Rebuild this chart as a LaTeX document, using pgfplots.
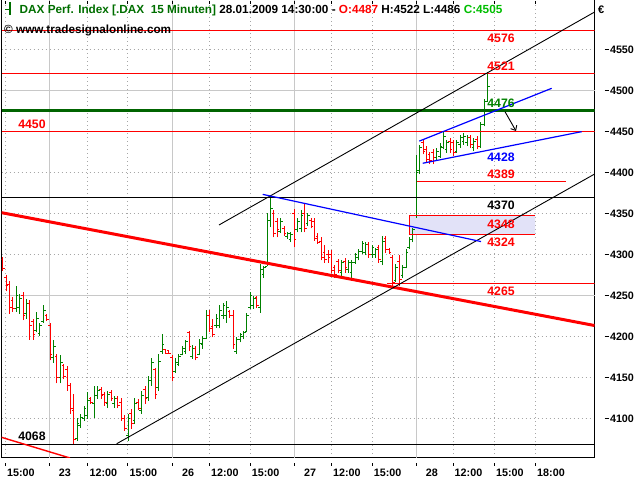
\documentclass[border=0pt]{standalone}
\usepackage{fontspec}
\setmainfont{Liberation Sans}
\usepackage{pgfplots}
\pgfplotsset{compat=1.18}
\usepackage{pgfplotstable}
\usetikzlibrary{arrows.meta}

\definecolor{upgreen}{RGB}{0,128,0}
\definecolor{dnred}{RGB}{255,0,0}
\definecolor{lvred}{RGB}{255,0,0}
\definecolor{dkgreen}{RGB}{0,100,0}
\definecolor{lav}{RGB}{226,226,248}
\definecolor{gridgray}{RGB}{200,200,200}
\definecolor{ttlgreen}{RGB}{0,110,0}
\definecolor{brgreen}{RGB}{0,190,0}
\definecolor{lblgreen}{RGB}{0,128,0}

\newcommand\lblfont{\fontsize{12.3}{14}\selectfont\bfseries}
\newcommand\tkfont{\fontsize{10.8}{12}\selectfont\bfseries}
\newcommand\dl{\rule[0.3em]{4bp}{1bp}\hspace{1.5bp}}

% bars with close > open (i = bar number, 15-minute bars)
\pgfplotstableread{
i o h l c
4 4234 4262 4230 4250
5 4236 4252 4228 4247
7 4228 4246 4222 4240
10 4208 4230 4205 4222
11 4204 4217 4201 4214
12 4219 4238 4217 4232
15 4174 4196 4168 4188
17 4150 4177 4143 4168
22 4076 4101 4073 4094
23 4092 4106 4089 4102
24 4100 4116 4097 4112
25 4104 4132 4100 4122
27 4118 4140 4101 4128
28 4128 4140 4124 4134
31 4118 4134 4113 4130
33 4118 4128 4113 4124
37 4080 4106 4073 4100
39 4098 4125 4094 4118
41 4110 4134 4106 4128
43 4126 4152 4122 4146
44 4146 4174 4140 4168
46 4138 4179 4134 4170
47 4182 4203 4179 4190
51 4158 4174 4156 4168
52 4166 4179 4164 4176
53 4178 4189 4177 4186
54 4182 4196 4179 4194
56 4176 4190 4173 4186
58 4178 4197 4177 4192
59 4190 4201 4185 4198
60 4198 4232 4197 4226
63 4213 4228 4211 4222
64 4214 4238 4210 4232
65 4226 4241 4222 4238
66 4226 4243 4217 4236
69 4182 4199 4179 4196
70 4196 4204 4193 4202
71 4200 4207 4197 4205
72 4206 4229 4205 4226
73 4236 4254 4234 4250
74 4238 4250 4234 4246
76 4236 4289 4229 4282
77 4276 4286 4272 4284
78 4286 4351 4286 4342
79 4342 4372 4333 4356
82 4328 4344 4326 4340
84 4322 4327 4319 4326
85 4318 4327 4315 4324
87 4330 4344 4327 4340
88 4332 4354 4327 4348
90 4338 4351 4335 4348
100 4278 4293 4274 4290
102 4282 4293 4278 4290
103 4278 4293 4272 4290
104 4290 4302 4289 4300
105 4296 4307 4293 4304
106 4304 4317 4301 4314
107 4302 4315 4299 4312
109 4300 4311 4296 4308
110 4300 4308 4296 4306
112 4292 4323 4287 4316
116 4268 4289 4266 4284
118 4274 4287 4272 4284
119 4284 4307 4283 4302
120 4308 4321 4307 4318
121 4318 4332 4315 4330
122 4348 4421 4345 4400
123 4402 4433 4398 4430
128 4418 4430 4414 4426
129 4420 4436 4418 4432
130 4430 4449 4428 4444
131 4428 4440 4424 4436
134 4426 4440 4424 4436
135 4434 4446 4430 4442
136 4438 4448 4434 4444
137 4436 4446 4432 4442
139 4430 4442 4426 4438
141 4432 4462 4430 4458
142 4458 4490 4456 4486
143 4487 4522 4486 4505
}\upbars

% bars with close < open
\pgfplotstableread{
i o h l c
0 4294 4297 4280 4283
1 4272 4275 4255 4262
2 4264 4268 4228 4236
3 4244 4248 4230 4234
6 4250 4254 4220 4226
8 4240 4244 4196 4214
9 4218 4222 4196 4203
13 4226 4228 4219 4221
14 4214 4217 4171 4178
16 4176 4179 4143 4150
18 4165 4167 4148 4152
19 4160 4164 4134 4140
20 4140 4144 4106 4112
21 4110 4130 4069 4075
26 4124 4126 4118 4120
29 4136 4139 4124 4128
30 4130 4132 4116 4120
32 4132 4135 4122 4124
34 4124 4128 4113 4116
35 4120 4125 4097 4100
36 4100 4104 4085 4088
38 4106 4112 4088 4094
40 4120 4124 4110 4112
42 4136 4140 4118 4124
45 4160 4162 4124 4130
48 4184 4185 4179 4180
49 4183 4184 4179 4180
50 4175 4177 4146 4150
55 4205 4207 4183 4188
57 4186 4189 4171 4174
61 4226 4232 4205 4210
62 4212 4222 4199 4203
67 4230 4232 4223 4226
68 4226 4232 4185 4190
75 4248 4250 4235 4238
80 4350 4354 4321 4326
81 4340 4344 4321 4330
83 4332 4335 4323 4326
86 4350 4356 4309 4318
89 4350 4362 4327 4332
91 4342 4344 4332 4334
92 4340 4344 4317 4320
93 4322 4326 4313 4315
94 4316 4321 4293 4296
95 4302 4311 4290 4294
96 4300 4305 4290 4296
97 4300 4305 4277 4280
98 4284 4287 4272 4276
99 4292 4295 4277 4280
101 4292 4296 4278 4284
108 4312 4315 4296 4300
111 4308 4311 4290 4294
113 4320 4323 4302 4306
114 4306 4308 4301 4303
115 4296 4299 4262 4266
117 4292 4299 4262 4270
124 4436 4439 4422 4426
125 4428 4432 4412 4416
126 4422 4425 4410 4414
127 4424 4428 4410 4418
132 4438 4442 4424 4428
133 4436 4440 4420 4424
138 4442 4446 4430 4434
140 4440 4444 4428 4432
}\downbars

\begin{document}
\begin{tikzpicture}
\useasboundingbox (0,0) rectangle (640bp,480bp);
\begin{axis}[
  at={(1.5bp,22bp)}, anchor=south west,
  scale only axis, width=593bp, height=458bp,
  xmin=1.5, xmax=594.5, ymin=4052.1, ymax=4610.1,
  axis line style={black, line width=1bp},
  tick style={draw=none},
  tick align=outside, major tick length=3.5bp,
  xtick style={draw=black, line width=1bp, yshift=-4.5bp},
  xtick={5.3,87.8,127.8,209.4,250.2,331.4,372.2,453,494.3,535.5},
  xticklabels={15:00,12:00,15:00,12:00,15:00,12:00,15:00,12:00,15:00,18:00},
  extra x ticks={49.4,172.7,294.7,416.3},
  extra x tick labels={23,26,27,28},
  extra x tick style={grid=major, major grid style={gridgray, solid, line width=1bp}},
  xmajorgrids, ymajorgrids,
  major grid style={gray!70, dash pattern=on 1bp off 3bp, line width=0.8bp},
  ytick={4100,4150,4200,4300,4350,4400,4450,4550},
  yticklabels={{\dl4100},{\dl4150},{\dl4200},{\dl4300},{\dl4350},{\dl4400},{\dl4450},{\dl4550}},
  extra y ticks={4250,4500},
  extra y tick labels={{\dl4250},{\dl4500}},
  extra y tick style={grid=major, major grid style={gridgray, solid, line width=1bp}},
  yticklabel pos=right,
  xticklabel style={font=\tkfont, anchor=north, xshift=15.5bp, yshift=-4bp},
  yticklabel style={font=\tkfont, anchor=west, xshift=3bp},
]
% zone 4324-4348
\addplot[fill=lav, draw=none, forget plot] coordinates {(409,4324.4) (535,4324.4) (535,4347.6) (409,4347.6) (409,4324.4)};

% OHLC bars: high-low line, open tick (left), close tick (right)
\addplot[draw=none, error bars/.cd, y dir=plus, y explicit, error mark=none, error bar style={draw=upgreen, line width=1bp}]
  table[x expr={2.7+3.39*\thisrow{i}}, y=l, y error expr={\thisrow{h}-\thisrow{l}}] {\upbars};
\addplot[draw=none, error bars/.cd, x dir=minus, x fixed=2.2, error mark=none, error bar style={draw=upgreen, line width=1bp}]
  table[x expr={2.7+3.39*\thisrow{i}}, y=o] {\upbars};
\addplot[draw=none, error bars/.cd, x dir=plus, x fixed=2.2, error mark=none, error bar style={draw=upgreen, line width=1bp}]
  table[x expr={2.7+3.39*\thisrow{i}}, y=c] {\upbars};
\addplot[draw=none, error bars/.cd, y dir=plus, y explicit, error mark=none, error bar style={draw=dnred, line width=1bp}]
  table[x expr={2.7+3.39*\thisrow{i}}, y=l, y error expr={\thisrow{h}-\thisrow{l}}] {\downbars};
\addplot[draw=none, error bars/.cd, x dir=minus, x fixed=2.2, error mark=none, error bar style={draw=dnred, line width=1bp}]
  table[x expr={2.7+3.39*\thisrow{i}}, y=o] {\downbars};
\addplot[draw=none, error bars/.cd, x dir=plus, x fixed=2.2, error mark=none, error bar style={draw=dnred, line width=1bp}]
  table[x expr={2.7+3.39*\thisrow{i}}, y=c] {\downbars};

% horizontal levels
\addplot[draw=lvred, line width=1bp] coordinates {(1.5,4572.9) (594.5,4572.9)};
\addplot[draw=lvred, line width=1bp] coordinates {(1.5,4520.6) (594.5,4520.6)};
\addplot[draw=lvred, line width=1bp] coordinates {(1.5,4449.9) (594.5,4449.9)};
\addplot[draw=lvred, line width=1bp] coordinates {(416.7,4389.0) (565.7,4389.0)};
\addplot[draw=lvred, line width=1bp] coordinates {(535,4347.6) (409,4347.6) (409,4324.4) (535,4324.4)};
\addplot[draw=lvred, line width=1bp] coordinates {(387,4264.7) (594.5,4264.7)};
\addplot[draw=black, line width=1bp] coordinates {(1.5,4369.5) (594.5,4369.5)};
\addplot[draw=black, line width=1bp] coordinates {(1.5,4068.6) (594.5,4068.6)};
\addplot[draw=dkgreen, line width=3bp] coordinates {(1.5,4475.5) (594.5,4475.5)};

% trend lines
\addplot[draw=lvred, line width=3bp] coordinates {(1.5,4351) (594.5,4213.5)};
\addplot[draw=lvred, line width=1.4bp] coordinates {(1.5,4077.3) (70,4052.1)};
\addplot[draw=black, line width=0.9bp] coordinates {(219,4336) (594.5,4595.4)};
\addplot[draw=black, line width=0.9bp] coordinates {(116.7,4069.5) (594.5,4398)};
\addplot[draw=blue, line width=1.2bp] coordinates {(262.7,4373.3) (481,4315.8)};
\addplot[draw=blue, line width=1.2bp] coordinates {(419.3,4438.2) (551.7,4502.5)};
\addplot[draw=blue, line width=1.2bp] coordinates {(422.7,4411.2) (581.7,4449.7)};
\addplot[draw=black, line width=0.9bp, -{Straight Barb[length=4bp, width=7bp]}] coordinates {(505,4474) (516,4450.5)};

% level labels
\node[font=\lblfont, text=red] at (axis cs:501,4563.8) {4576};
\node[font=\lblfont, text=red] at (axis cs:501,4529.7) {4521};
\node[font=\lblfont, text=lblgreen] at (axis cs:501,4484) {4476};
\node[font=\lblfont, text=blue] at (axis cs:501,4418.2) {4428};
\node[font=\lblfont, text=red] at (axis cs:501,4398.1) {4389};
\node[font=\lblfont, text=black] at (axis cs:501,4359.8) {4370};
\node[font=\lblfont, text=red] at (axis cs:501,4337.2) {4348};
\node[font=\lblfont, text=red] at (axis cs:501,4314.7) {4324};
\node[font=\lblfont, text=red] at (axis cs:501,4255.6) {4265};
\node[font=\lblfont, text=red] at (axis cs:32,4459) {4450};
\node[font=\lblfont, text=black] at (axis cs:32,4078.1) {4068};
\end{axis}
% header
\draw[ttlgreen, line width=1.2bp] (10bp,478bp) -- (10bp,465bp) (5bp,470.5bp) -- (10bp,470.5bp);
\node[anchor=base west, inner sep=0pt, font=\fontsize{11.8}{13}\selectfont\bfseries] at (19.5bp,466bp)
  {{\color{ttlgreen}DAX Perf. Index [.DAX\ \ 15 Minuten]} 28.01.2009 14:30:00 - {\color{red}O:4487} H:4522 L:4486 {\color{brgreen}C:4505}};
\node[anchor=base west, inner sep=0pt, font=\fontsize{11.8}{13}\selectfont\bfseries] at (4bp,446.7bp)
  {\textcopyright\ www.tradesignalonline.com};
\node[anchor=base west, inner sep=0pt, font=\fontsize{11}{13}\selectfont\bfseries] at (598bp,466bp) {€};
\end{tikzpicture}
\end{document}
